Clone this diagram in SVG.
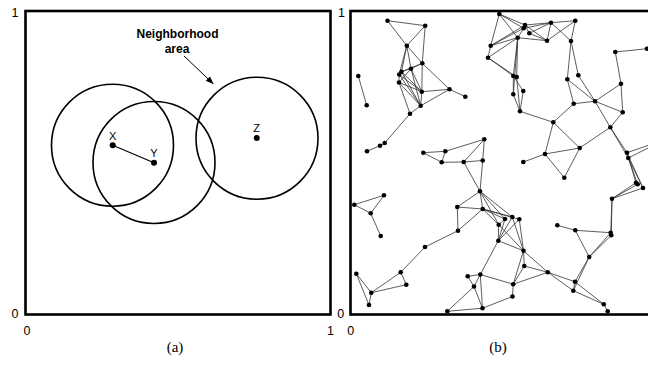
<svg xmlns="http://www.w3.org/2000/svg" width="648" height="372" viewBox="0 0 648 372">
<defs>
<style>
.frame{fill:none;stroke:#000;stroke-width:2.6}
.ring{fill:none;stroke:#000;stroke-width:1.6}
.ax{font-family:"Liberation Sans",Arial,sans-serif;font-size:12.5px;fill:#000;text-anchor:middle}
.pl{font-family:"Liberation Sans",Arial,sans-serif;font-size:11px;fill:#000;text-anchor:middle}
.cap{font-family:"Liberation Serif","Times New Roman",serif;font-size:15px;fill:#000;text-anchor:middle}
.ann{font-family:"Liberation Sans",Arial,sans-serif;font-size:12px;font-weight:bold;fill:#000;text-anchor:middle}
.e line{stroke:#333;stroke-width:0.8}
.n circle{fill:#000}
</style>
<marker id="ah" viewBox="0 0 10 10" refX="10" refY="5" markerWidth="8" markerHeight="8" markerUnits="userSpaceOnUse" orient="auto">
<path d="M0,1 L10,5 L0,9 Z" fill="#000"/>
</marker>
<clipPath id="cb"><rect x="350.5" y="11" width="305" height="303.5"/></clipPath>
</defs>
<rect width="648" height="372" fill="#fff"/>

<!-- Panel (a) -->
<g id="panel-a">
<rect class="frame" x="25.5" y="11" width="305" height="303.5"/>
<text class="ax" x="15" y="17">1</text>
<text class="ax" x="15" y="318">0</text>
<text class="ax" x="27" y="335">0</text>
<text class="ax" x="330.5" y="335">1</text>
<text class="cap" x="175" y="352">(a)</text>
<g id="area-X"><circle class="ring" cx="112.5" cy="145.3" r="61"/></g>
<g id="area-Y"><circle class="ring" cx="154" cy="162.5" r="61"/></g>
<g id="area-Z"><circle class="ring" cx="257" cy="138.2" r="61"/></g>
<g id="label-neighborhood">
<text class="ann" x="177.5" y="38.3">Neighborhood</text>
<text class="ann" x="177" y="53">area</text>
</g>
</g>
<g id="connectors-a">
<line x1="112.7" y1="145.3" x2="154" y2="162.7" stroke="#000" stroke-width="1.2"/>
<line x1="184" y1="56" x2="213.5" y2="84" stroke="#000" stroke-width="1" marker-end="url(#ah)"/>
</g>
<g id="node-X"><circle cx="112.7" cy="145.3" r="3"/><text class="pl" x="112.7" y="140">X</text></g>
<g id="node-Y"><circle cx="154" cy="162.7" r="3"/><text class="pl" x="154" y="157">Y</text></g>
<g id="node-Z"><circle cx="256.7" cy="138" r="3"/><text class="pl" x="256.7" y="132">Z</text></g>

<!-- Panel (b) -->
<g id="panel-b">
<rect class="frame" x="350.5" y="11" width="305" height="303.5"/>
<text class="ax" x="341.5" y="17">1</text>
<text class="ax" x="340.7" y="318">0</text>
<text class="ax" x="350.7" y="335">0</text>
<text class="cap" x="498" y="352">(b)</text>
</g>
<g id="connectors-b" class="e" clip-path="url(#cb)">
<line x1="387.5" y1="20.7" x2="425.2" y2="25.7"/>
<line x1="387.5" y1="20.7" x2="406.8" y2="45.7"/>
<line x1="425.2" y1="25.7" x2="406.8" y2="45.7"/>
<line x1="425.2" y1="25.7" x2="422.3" y2="63.3"/>
<line x1="406.8" y1="45.7" x2="422.3" y2="63.3"/>
<line x1="406.8" y1="45.7" x2="411" y2="68.7"/>
<line x1="406.8" y1="45.7" x2="401.5" y2="71.7"/>
<line x1="406.8" y1="45.7" x2="399.2" y2="74.5"/>
<line x1="422.3" y1="63.3" x2="411" y2="68.7"/>
<line x1="422.3" y1="63.3" x2="401.5" y2="71.7"/>
<line x1="422.3" y1="63.3" x2="421.8" y2="91.7"/>
<line x1="422.3" y1="63.3" x2="449.5" y2="89.3"/>
<line x1="411" y1="68.7" x2="401.5" y2="71.7"/>
<line x1="411" y1="68.7" x2="421.8" y2="91.7"/>
<line x1="411" y1="68.7" x2="420.7" y2="105.8"/>
<line x1="401.5" y1="71.7" x2="421.8" y2="91.7"/>
<line x1="401.5" y1="71.7" x2="420.7" y2="105.8"/>
<line x1="399.2" y1="74.5" x2="421.8" y2="91.7"/>
<line x1="399.2" y1="74.5" x2="420.7" y2="105.8"/>
<line x1="399" y1="82.5" x2="421.8" y2="91.7"/>
<line x1="399" y1="82.5" x2="420.7" y2="105.8"/>
<line x1="399.2" y1="74.5" x2="399" y2="82.5"/>
<line x1="399" y1="82.5" x2="410" y2="113.7"/>
<line x1="421.8" y1="91.7" x2="449.5" y2="89.3"/>
<line x1="421.8" y1="91.7" x2="420.7" y2="105.8"/>
<line x1="449.5" y1="89.3" x2="465.3" y2="96.7"/>
<line x1="449.5" y1="89.3" x2="420.7" y2="105.8"/>
<line x1="420.7" y1="105.8" x2="410" y2="113.7"/>
<line x1="410" y1="113.7" x2="384.7" y2="143"/>
<line x1="411" y1="68.7" x2="399" y2="82.5"/>
<line x1="358.3" y1="76" x2="366.7" y2="105.3"/>
<line x1="367" y1="151.2" x2="380" y2="145.7"/>
<line x1="380" y1="145.7" x2="384.7" y2="143"/>
<line x1="423.3" y1="152.7" x2="445.3" y2="151.3"/>
<line x1="423.3" y1="152.7" x2="441.7" y2="162.3"/>
<line x1="445.3" y1="151.3" x2="441.7" y2="162.3"/>
<line x1="441.7" y1="162.3" x2="463.7" y2="162"/>
<line x1="463.7" y1="162" x2="482.7" y2="160.5"/>
<line x1="463.7" y1="162" x2="484.3" y2="139.3"/>
<line x1="482.7" y1="160.5" x2="484.3" y2="139.3"/>
<line x1="445.3" y1="151.3" x2="484.3" y2="139.3"/>
<line x1="463.7" y1="162" x2="480" y2="191.3"/>
<line x1="482.7" y1="160.5" x2="480" y2="191.3"/>
<line x1="480" y1="191.3" x2="457.3" y2="207"/>
<line x1="480" y1="191.3" x2="482.7" y2="209"/>
<line x1="457.3" y1="207" x2="482.7" y2="209"/>
<line x1="457.3" y1="207" x2="458" y2="230.7"/>
<line x1="482.7" y1="209" x2="458" y2="230.7"/>
<line x1="480" y1="191.3" x2="498.7" y2="224.7"/>
<line x1="482.7" y1="209" x2="498.7" y2="224.7"/>
<line x1="482.7" y1="209" x2="505" y2="219"/>
<line x1="482.7" y1="209" x2="512.3" y2="217"/>
<line x1="482.7" y1="209" x2="519.3" y2="219.3"/>
<line x1="480" y1="191.3" x2="505" y2="219"/>
<line x1="480" y1="191.3" x2="512.3" y2="217"/>
<line x1="498.7" y1="224.7" x2="505" y2="219"/>
<line x1="498.7" y1="224.7" x2="498.3" y2="240.7"/>
<line x1="498.7" y1="224.7" x2="523.5" y2="250.8"/>
<line x1="498.3" y1="240.7" x2="505" y2="219"/>
<line x1="498.3" y1="240.7" x2="512.3" y2="217"/>
<line x1="498.3" y1="240.7" x2="519.3" y2="219.3"/>
<line x1="498.3" y1="240.7" x2="523.5" y2="250.8"/>
<line x1="498.3" y1="240.7" x2="480.3" y2="274.5"/>
<line x1="523.5" y1="250.8" x2="519.3" y2="219.3"/>
<line x1="523.5" y1="250.8" x2="512.3" y2="217"/>
<line x1="523.5" y1="250.8" x2="547.8" y2="272.3"/>
<line x1="523.5" y1="250.8" x2="524.3" y2="266"/>
<line x1="523.5" y1="250.8" x2="513.2" y2="284.2"/>
<line x1="524.3" y1="266" x2="513.2" y2="284.2"/>
<line x1="524.3" y1="266" x2="547.8" y2="272.3"/>
<line x1="513.2" y1="284.2" x2="547.8" y2="272.3"/>
<line x1="513.2" y1="284.2" x2="480.3" y2="274.5"/>
<line x1="513.2" y1="284.2" x2="512.5" y2="296.5"/>
<line x1="512.5" y1="296.5" x2="482.5" y2="308.2"/>
<line x1="458" y1="230.7" x2="425" y2="247"/>
<line x1="425" y1="247" x2="400.7" y2="272.3"/>
<line x1="400.7" y1="272.3" x2="406.3" y2="284.7"/>
<line x1="400.7" y1="272.3" x2="371.3" y2="292.7"/>
<line x1="406.3" y1="284.7" x2="371.3" y2="292.7"/>
<line x1="371.3" y1="292.7" x2="356.3" y2="273.7"/>
<line x1="371.3" y1="292.7" x2="369" y2="305"/>
<line x1="356.3" y1="273.7" x2="369" y2="305"/>
<line x1="384" y1="195.3" x2="354.3" y2="204.7"/>
<line x1="384" y1="195.3" x2="370.7" y2="213.3"/>
<line x1="354.3" y1="204.7" x2="370.7" y2="213.3"/>
<line x1="370.7" y1="213.3" x2="380.7" y2="236"/>
<line x1="467.7" y1="276.3" x2="480.3" y2="274.5"/>
<line x1="467.7" y1="276.3" x2="474" y2="286.5"/>
<line x1="480.3" y1="274.5" x2="474" y2="286.5"/>
<line x1="480.3" y1="274.5" x2="482.5" y2="308.2"/>
<line x1="474" y1="286.5" x2="482.5" y2="308.2"/>
<line x1="474" y1="286.5" x2="447.3" y2="311.3"/>
<line x1="482.5" y1="308.2" x2="447.3" y2="311.3"/>
<line x1="547.8" y1="272.3" x2="575" y2="281.8"/>
<line x1="547.8" y1="272.3" x2="573.3" y2="290.7"/>
<line x1="575" y1="281.8" x2="573.3" y2="290.7"/>
<line x1="575" y1="281.8" x2="603.8" y2="304.3"/>
<line x1="573.3" y1="290.7" x2="603.8" y2="304.3"/>
<line x1="603.8" y1="304.3" x2="607.7" y2="311.3"/>
<line x1="589.2" y1="257" x2="575" y2="281.8"/>
<line x1="589.2" y1="257" x2="573.3" y2="290.7"/>
<line x1="589.2" y1="257" x2="610.7" y2="232.7"/>
<line x1="589.2" y1="257" x2="611.3" y2="235.3"/>
<line x1="589.2" y1="257" x2="575.3" y2="230.3"/>
<line x1="575.3" y1="230.3" x2="610.7" y2="232.7"/>
<line x1="557.3" y1="225.3" x2="575.3" y2="230.3"/>
<line x1="610.7" y1="232.7" x2="612" y2="198.7"/>
<line x1="611.3" y1="235.3" x2="612" y2="198.7"/>
<line x1="612" y1="198.7" x2="636" y2="182.7"/>
<line x1="612" y1="198.7" x2="637.7" y2="184.3"/>
<line x1="612" y1="198.7" x2="643" y2="188"/>
<line x1="627" y1="152.7" x2="636" y2="182.7"/>
<line x1="627" y1="152.7" x2="643" y2="188"/>
<line x1="628.3" y1="158" x2="637.7" y2="184.3"/>
<line x1="628.3" y1="158" x2="643" y2="188"/>
<line x1="627" y1="152.7" x2="652" y2="144"/>
<line x1="628.3" y1="158" x2="652" y2="146"/>
<line x1="545" y1="154" x2="523.3" y2="162"/>
<line x1="545" y1="154" x2="564.3" y2="177.7"/>
<line x1="579.7" y1="148" x2="564.3" y2="177.7"/>
<line x1="545" y1="154" x2="579.7" y2="148"/>
<line x1="553.3" y1="122.3" x2="579.7" y2="148"/>
<line x1="553.3" y1="122.3" x2="545" y2="154"/>
<line x1="610.3" y1="127.3" x2="579.7" y2="148"/>
<line x1="610.3" y1="127.3" x2="627" y2="152.7"/>
<line x1="610.3" y1="127.3" x2="628.3" y2="158"/>
<line x1="622.7" y1="112.3" x2="610.3" y2="127.3"/>
<line x1="595" y1="101.3" x2="610.3" y2="127.3"/>
<line x1="595" y1="101.3" x2="622.7" y2="112.3"/>
<line x1="595" y1="101.3" x2="621" y2="83.7"/>
<line x1="621" y1="83.7" x2="622.7" y2="112.3"/>
<line x1="621" y1="83.7" x2="615.3" y2="52"/>
<line x1="615.3" y1="52" x2="647" y2="48.7"/>
<line x1="573.7" y1="103.7" x2="595" y2="101.3"/>
<line x1="567.3" y1="79.3" x2="573.7" y2="103.7"/>
<line x1="567.3" y1="79.3" x2="595" y2="101.3"/>
<line x1="578.3" y1="75.3" x2="595" y2="101.3"/>
<line x1="567.3" y1="79.3" x2="571" y2="41"/>
<line x1="578.3" y1="75.3" x2="571" y2="41"/>
<line x1="573.7" y1="103.7" x2="553.3" y2="122.3"/>
<line x1="520" y1="111.3" x2="553.3" y2="122.3"/>
<line x1="513.3" y1="76" x2="516.7" y2="77"/>
<line x1="513.3" y1="76" x2="523.3" y2="91"/>
<line x1="513.3" y1="76" x2="513.3" y2="94.3"/>
<line x1="516.7" y1="77" x2="520" y2="111.3"/>
<line x1="523.3" y1="91" x2="520" y2="111.3"/>
<line x1="513.3" y1="94.3" x2="520" y2="111.3"/>
<line x1="517.7" y1="37.7" x2="513.3" y2="76"/>
<line x1="517.7" y1="37.7" x2="516.7" y2="77"/>
<line x1="517.7" y1="37.7" x2="513.3" y2="94.3"/>
<line x1="488" y1="57.7" x2="513.3" y2="76"/>
<line x1="488" y1="57.7" x2="516.7" y2="77"/>
<line x1="499.3" y1="14" x2="490.7" y2="45.7"/>
<line x1="499.3" y1="14" x2="525" y2="25"/>
<line x1="499.3" y1="14" x2="523.7" y2="28.3"/>
<line x1="499.3" y1="14" x2="517.7" y2="37.7"/>
<line x1="490.7" y1="45.7" x2="523.7" y2="28.3"/>
<line x1="490.7" y1="45.7" x2="517.7" y2="37.7"/>
<line x1="490.7" y1="45.7" x2="525" y2="25"/>
<line x1="488" y1="57.7" x2="490.7" y2="45.7"/>
<line x1="488" y1="57.7" x2="517.7" y2="37.7"/>
<line x1="517.7" y1="37.7" x2="523.7" y2="28.3"/>
<line x1="529.3" y1="33.3" x2="525" y2="25"/>
<line x1="523.7" y1="28.3" x2="551" y2="22.7"/>
<line x1="525" y1="25" x2="551" y2="22.7"/>
<line x1="529.3" y1="33.3" x2="551" y2="22.7"/>
<line x1="525" y1="25" x2="547" y2="40.7"/>
<line x1="529.3" y1="33.3" x2="547" y2="40.7"/>
<line x1="517.7" y1="37.7" x2="547" y2="40.7"/>
<line x1="551" y1="22.7" x2="575.3" y2="20.7"/>
<line x1="551" y1="22.7" x2="547" y2="40.7"/>
<line x1="551" y1="22.7" x2="571" y2="41"/>
<line x1="575.3" y1="20.7" x2="547" y2="40.7"/>
<line x1="575.3" y1="20.7" x2="571" y2="41"/>
</g>
<g id="nodes-b" class="n">
<g id="b1"><circle cx="387.5" cy="20.7" r="2.3"/></g>
<g id="b2"><circle cx="425.2" cy="25.7" r="2.3"/></g>
<g id="b3"><circle cx="406.8" cy="45.7" r="2.3"/></g>
<g id="b4"><circle cx="422.3" cy="63.3" r="2.3"/></g>
<g id="b5"><circle cx="411" cy="68.7" r="2.3"/></g>
<g id="b6"><circle cx="401.5" cy="71.7" r="2.3"/></g>
<g id="b7"><circle cx="399.2" cy="74.5" r="2.3"/></g>
<g id="b8"><circle cx="399" cy="82.5" r="2.3"/></g>
<g id="b9"><circle cx="421.8" cy="91.7" r="2.3"/></g>
<g id="b10"><circle cx="449.5" cy="89.3" r="2.3"/></g>
<g id="b11"><circle cx="465.3" cy="96.7" r="2.3"/></g>
<g id="b12"><circle cx="420.7" cy="105.8" r="2.3"/></g>
<g id="b13"><circle cx="410" cy="113.7" r="2.3"/></g>
<g id="b14"><circle cx="358.3" cy="76" r="2.3"/></g>
<g id="b15"><circle cx="366.7" cy="105.3" r="2.3"/></g>
<g id="b16"><circle cx="367" cy="151.2" r="2.3"/></g>
<g id="b17"><circle cx="380" cy="145.7" r="2.3"/></g>
<g id="b18"><circle cx="384.7" cy="143" r="2.3"/></g>
<g id="b19"><circle cx="423.3" cy="152.7" r="2.3"/></g>
<g id="b20"><circle cx="445.3" cy="151.3" r="2.3"/></g>
<g id="b21"><circle cx="441.7" cy="162.3" r="2.3"/></g>
<g id="b22"><circle cx="463.7" cy="162" r="2.3"/></g>
<g id="b23"><circle cx="482.7" cy="160.5" r="2.3"/></g>
<g id="b24"><circle cx="484.3" cy="139.3" r="2.3"/></g>
<g id="b25"><circle cx="480" cy="191.3" r="2.3"/></g>
<g id="b26"><circle cx="457.3" cy="207" r="2.3"/></g>
<g id="b27"><circle cx="482.7" cy="209" r="2.3"/></g>
<g id="b28"><circle cx="498.7" cy="224.7" r="2.3"/></g>
<g id="b29"><circle cx="458" cy="230.7" r="2.3"/></g>
<g id="b30"><circle cx="498.3" cy="240.7" r="2.3"/></g>
<g id="b31"><circle cx="384" cy="195.3" r="2.3"/></g>
<g id="b32"><circle cx="354.3" cy="204.7" r="2.3"/></g>
<g id="b33"><circle cx="370.7" cy="213.3" r="2.3"/></g>
<g id="b34"><circle cx="380.7" cy="236" r="2.3"/></g>
<g id="b35"><circle cx="425" cy="247" r="2.3"/></g>
<g id="b36"><circle cx="400.7" cy="272.3" r="2.3"/></g>
<g id="b37"><circle cx="406.3" cy="284.7" r="2.3"/></g>
<g id="b38"><circle cx="356.3" cy="273.7" r="2.3"/></g>
<g id="b39"><circle cx="371.3" cy="292.7" r="2.3"/></g>
<g id="b40"><circle cx="369" cy="305" r="2.3"/></g>
<g id="b41"><circle cx="467.7" cy="276.3" r="2.3"/></g>
<g id="b42"><circle cx="480.3" cy="274.5" r="2.3"/></g>
<g id="b43"><circle cx="474" cy="286.5" r="2.3"/></g>
<g id="b44"><circle cx="482.5" cy="308.2" r="2.3"/></g>
<g id="b45"><circle cx="447.3" cy="311.3" r="2.3"/></g>
<g id="b46"><circle cx="499.3" cy="14" r="2.3"/></g>
<g id="b47"><circle cx="490.7" cy="45.7" r="2.3"/></g>
<g id="b48"><circle cx="488" cy="57.7" r="2.3"/></g>
<g id="b49"><circle cx="525" cy="25" r="2.3"/></g>
<g id="b50"><circle cx="523.7" cy="28.3" r="2.3"/></g>
<g id="b51"><circle cx="529.3" cy="33.3" r="2.3"/></g>
<g id="b52"><circle cx="517.7" cy="37.7" r="2.3"/></g>
<g id="b53"><circle cx="551" cy="22.7" r="2.3"/></g>
<g id="b54"><circle cx="575.3" cy="20.7" r="2.3"/></g>
<g id="b55"><circle cx="547" cy="40.7" r="2.3"/></g>
<g id="b56"><circle cx="571" cy="41" r="2.3"/></g>
<g id="b57"><circle cx="513.3" cy="76" r="2.3"/></g>
<g id="b58"><circle cx="516.7" cy="77" r="2.3"/></g>
<g id="b59"><circle cx="523.3" cy="91" r="2.3"/></g>
<g id="b60"><circle cx="513.3" cy="94.3" r="2.3"/></g>
<g id="b61"><circle cx="520" cy="111.3" r="2.3"/></g>
<g id="b62"><circle cx="567.3" cy="79.3" r="2.3"/></g>
<g id="b63"><circle cx="578.3" cy="75.3" r="2.3"/></g>
<g id="b64"><circle cx="573.7" cy="103.7" r="2.3"/></g>
<g id="b65"><circle cx="595" cy="101.3" r="2.3"/></g>
<g id="b66"><circle cx="615.3" cy="52" r="2.3"/></g>
<g id="b67"><circle cx="647" cy="48.7" r="2.3"/></g>
<g id="b68"><circle cx="621" cy="83.7" r="2.3"/></g>
<g id="b69"><circle cx="622.7" cy="112.3" r="2.3"/></g>
<g id="b70"><circle cx="610.3" cy="127.3" r="2.3"/></g>
<g id="b71"><circle cx="553.3" cy="122.3" r="2.3"/></g>
<g id="b72"><circle cx="579.7" cy="148" r="2.3"/></g>
<g id="b73"><circle cx="545" cy="154" r="2.3"/></g>
<g id="b74"><circle cx="627" cy="152.7" r="2.3"/></g>
<g id="b75"><circle cx="628.3" cy="158" r="2.3"/></g>
<g id="b76"><circle cx="523.3" cy="162" r="2.3"/></g>
<g id="b77"><circle cx="564.3" cy="177.7" r="2.3"/></g>
<g id="b78"><circle cx="636" cy="182.7" r="2.3"/></g>
<g id="b79"><circle cx="637.7" cy="184.3" r="2.3"/></g>
<g id="b80"><circle cx="643" cy="188" r="2.3"/></g>
<g id="b81"><circle cx="612" cy="198.7" r="2.3"/></g>
<g id="b82"><circle cx="610.7" cy="232.7" r="2.3"/></g>
<g id="b83"><circle cx="611.3" cy="235.3" r="2.3"/></g>
<g id="b84"><circle cx="575.3" cy="230.3" r="2.3"/></g>
<g id="b85"><circle cx="557.3" cy="225.3" r="2.3"/></g>
<g id="b86"><circle cx="589.2" cy="257" r="2.3"/></g>
<g id="b87"><circle cx="575" cy="281.8" r="2.3"/></g>
<g id="b88"><circle cx="573.3" cy="290.7" r="2.3"/></g>
<g id="b89"><circle cx="603.8" cy="304.3" r="2.3"/></g>
<g id="b90"><circle cx="607.7" cy="311.3" r="2.3"/></g>
<g id="b91"><circle cx="505" cy="219" r="2.3"/></g>
<g id="b92"><circle cx="512.3" cy="217" r="2.3"/></g>
<g id="b93"><circle cx="519.3" cy="219.3" r="2.3"/></g>
<g id="b94"><circle cx="523.5" cy="250.8" r="2.3"/></g>
<g id="b95"><circle cx="524.3" cy="266" r="2.3"/></g>
<g id="b96"><circle cx="547.8" cy="272.3" r="2.3"/></g>
<g id="b97"><circle cx="513.2" cy="284.2" r="2.3"/></g>
<g id="b98"><circle cx="512.5" cy="296.5" r="2.3"/></g>
</g>
</svg>
